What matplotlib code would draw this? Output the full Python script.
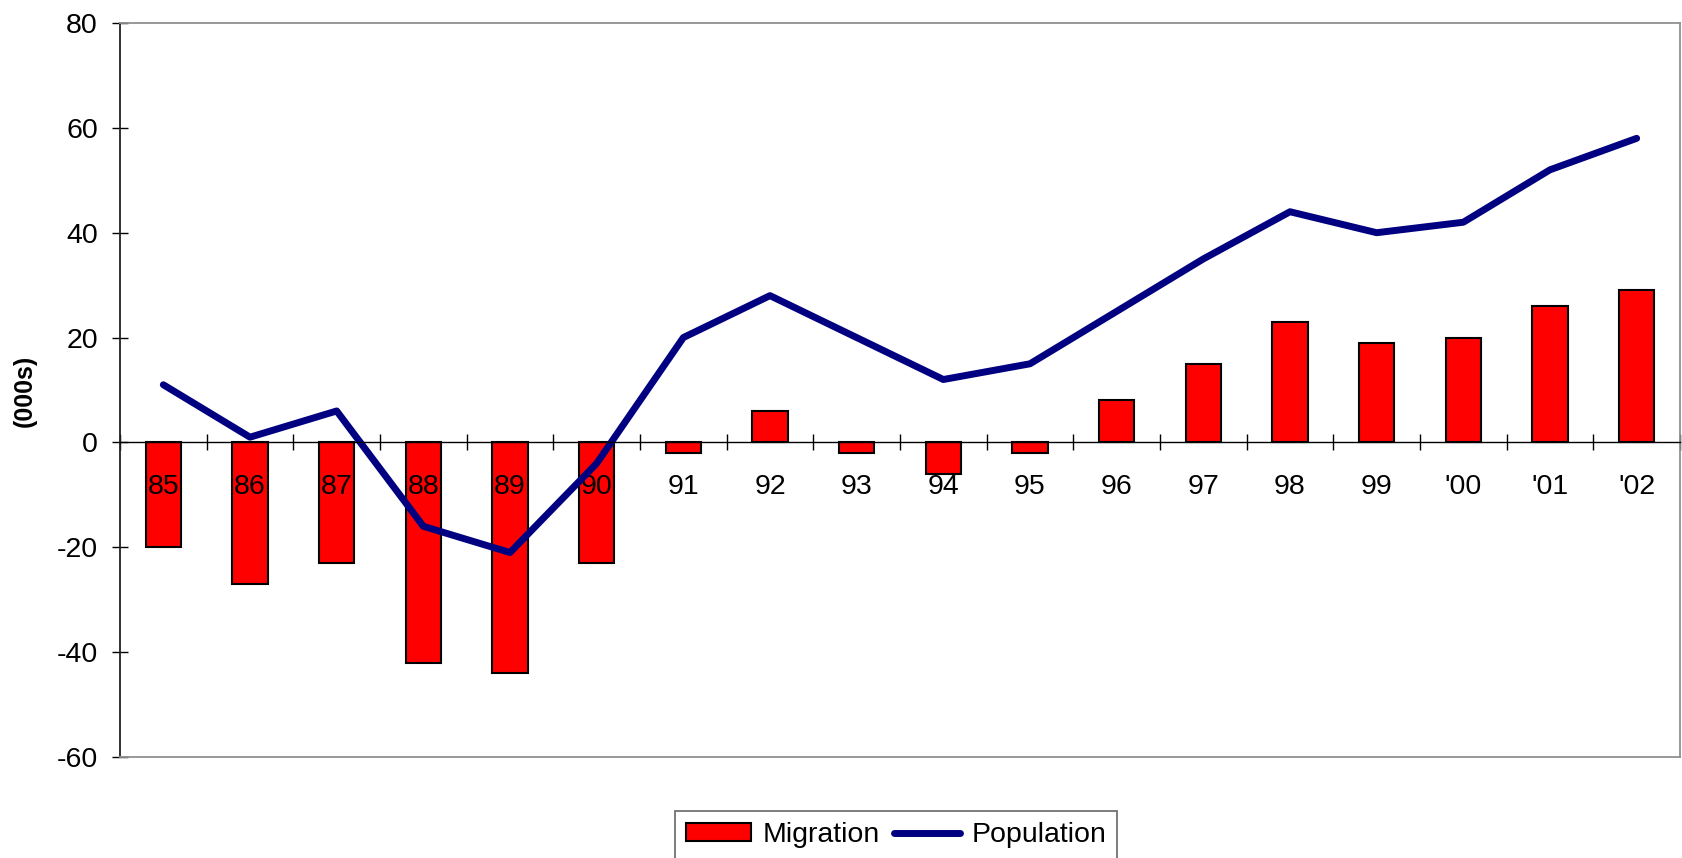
import numpy as np
import matplotlib
matplotlib.use("Agg")
import matplotlib.pyplot as plt

plt.rcParams['font.family'] = ['Liberation Sans', 'DejaVu Sans']

years = ["85", "86", "87", "88", "89", "90", "91", "92", "93", "94", "95",
         "96", "97", "98", "99", "'00", "'01", "'02"]
migration = [-20, -27, -23, -42, -44, -23, -2, 6, -2, -6, -2,
             8, 15, 23, 19, 20, 26, 29]
population = [11, 1, 6, -16, -21, -4, 20, 28, 20, 12, 15,
              25, 35, 44, 40, 42, 52, 58]
yticks = [-60, -40, -20, 0, 20, 40, 60, 80]

W, H = 1682, 858
fig = plt.figure(figsize=(W / 100, H / 100), dpi=100)
ax = fig.add_axes([120 / W, 1 - 757 / H, 1560 / W, 734 / H])

x = np.arange(len(years))
bars = ax.bar(x, migration, width=0.41, color='#FF0000', edgecolor='black',
              linewidth=1.5, label='Migration', zorder=1)
line, = ax.plot(x, population, color='#000080', lw=5, solid_capstyle='round',
                solid_joinstyle='round', label='Population', zorder=2)

ax.set_xlim(-0.5, len(years) - 0.5)
ax.set_ylim(-60, 80)
ax.set_yticks(yticks)
ax.set_yticklabels([str(v) for v in yticks])

# x axis at zero
ax.spines['bottom'].set_position(('data', 0))
ax.spines['bottom'].set_color('black')
ax.spines['bottom'].set_linewidth(1.0)
ax.spines['left'].set_color('#222222')
ax.spines['left'].set_linewidth(1.3)
ax.spines['top'].set_color('#909090')
ax.spines['top'].set_linewidth(1.3)
ax.spines['right'].set_color('#909090')
ax.spines['right'].set_linewidth(1.3)
ax.axhline(-60, color='#909090', lw=1.3, clip_on=False, zorder=3)

ax.set_xticks(np.arange(-0.5, len(years), 1.0))
ax.set_xticklabels([])
ax.set_xticks(x, minor=True)
ax.set_xticklabels(years, minor=True)
ax.tick_params(axis='x', which='major', direction='inout', length=12,
               width=1.0, color='black')
ax.tick_params(axis='x', which='minor', length=0, pad=23, labelsize=20.5)
ax.tick_params(axis='y', direction='inout', length=12, width=1.0,
               color='black', pad=10, labelsize=20.5)

fig.text(0.0149, 1 - 391 / H, '(000s)', rotation=90, ha='center',
         va='center', fontsize=18, fontweight='bold')

leg = fig.legend([bars, line], ['Migration', 'Population'],
                 loc='upper center', bbox_to_anchor=(896 / W, 1 - 811 / H),
                 ncol=2, fontsize=20.5, frameon=True, fancybox=False,
                 edgecolor='#404040', handlelength=2.3, handleheight=0.6,
                 handletextpad=0.4, columnspacing=0.5, borderpad=0.4,
                 borderaxespad=0)
leg.get_frame().set_linewidth(1.2)

fig.savefig('out.png', dpi=100)
